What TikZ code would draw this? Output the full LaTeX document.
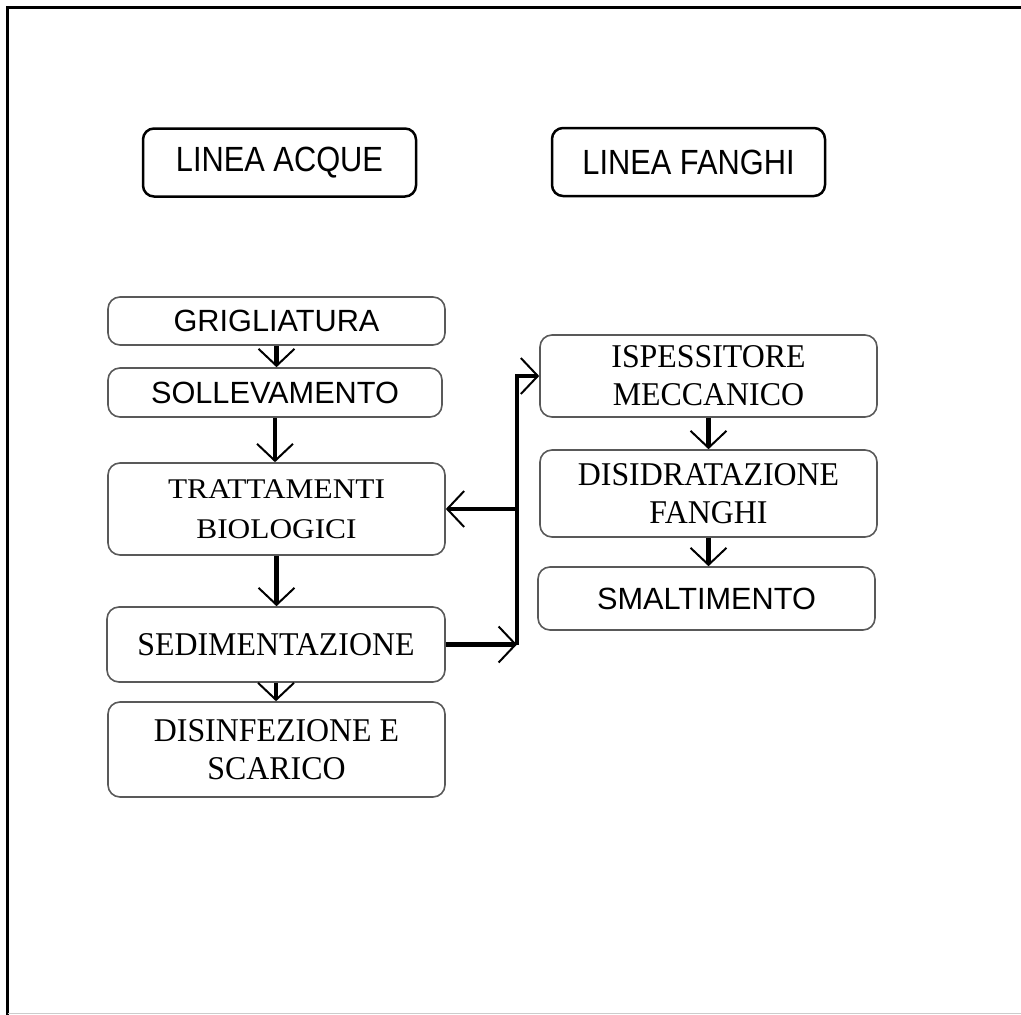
\documentclass[tikz,border=0pt]{standalone}
\usepackage{fontspec}
\usepackage{tikz}
\usetikzlibrary{arrows.meta}

\newfontfamily\sansbox{Liberation Sans}
\newfontfamily\headbox[FakeStretch=0.88]{Liberation Sans}
\newfontfamily\serifbox[FakeStretch=0.96]{Liberation Serif}
\newfontfamily\serifwide[FakeStretch=1.1]{Liberation Serif}

\begin{document}
\begin{tikzpicture}[x=1pt,y=-1pt]
        \tikzstyle{every node} = [rectangle, inner sep=0pt, align=center]
        \tikzstyle{head} = [draw=black, line width=2.5pt, rounded corners=11pt,
            minimum width=273pt, minimum height=68pt,
            font=\headbox\fontsize{35}{40}\selectfont]
        \tikzstyle{stage} = [draw=black!65, line width=1.6pt, rounded corners=12pt,
            minimum width=337pt, font=\sansbox\fontsize{30.7}{38}\selectfont]
        \tikzstyle{stageserif} = [stage, font=\serifbox\fontsize{33.2}{38}\selectfont]
        \tikzstyle{flow} = [line width=4.5pt,
            -{Straight Barb[length=17pt,width=36pt,line width=2pt]}]
        \useasboundingbox (0,0) rectangle (1021,1015);
        % frame
        \draw[line width=3pt] (7.5,1015) -- (7.5,7.5) -- (1021,7.5);
        \draw[black!20, line width=1.5pt] (7.5,1013.5) -- (1021,1013.5);
        % titles
        \node[head] (acque) at (279.5,162.5) {LINEA ACQUE};
        \node[head] (fanghi) at (688.5,162) {LINEA FANGHI};
        % linea acque
        \node[stage, minimum height=48pt] (grig) at (276.5,321) {GRIGLIATURA};
        \node[stage, minimum width=334pt, minimum height=49pt] (soll) at (275,392.5) {SOLLEVAMENTO};
        \node[stage, minimum height=92pt,
            font=\serifwide\fontsize{28.5}{40}\selectfont] (tratt) at (276.5,509) {TRATTAMENTI\\BIOLOGICI};
        \node[stageserif, minimum width=338pt, minimum height=75pt] (sedim) at (276,644.5) {SEDIMENTAZIONE};
        \node[stageserif, minimum height=95pt] (disinf) at (276.5,749.5) {DISINFEZIONE E\\SCARICO};
        % linea fanghi
        \node[stageserif, minimum height=82pt] (isp) at (708.5,376) {ISPESSITORE\\MECCANICO};
        \node[stageserif, minimum height=87pt] (disid) at (708.5,493.5) {DISIDRATAZIONE\\FANGHI};
        \node[stage, minimum height=63pt] (smalt) at (706.5,598.5) {SMALTIMENTO};
        \foreach \from/\to in {grig/soll, soll/tratt, tratt/sedim, sedim/disinf, isp/disid, disid/smalt}
            \draw[flow] (\from.south) -- (\from.south |- \to.north);
        % ricircolo fanghi
        \coordinate (bus) at (517,0);
        \draw[flow] (sedim.east) -- (sedim.east -| bus);
        \draw[flow] (sedim.east -| bus) |- (isp.west);
        \draw[flow] (tratt.east -| bus) -- (tratt.east);
    \end{tikzpicture}
\end{document}
